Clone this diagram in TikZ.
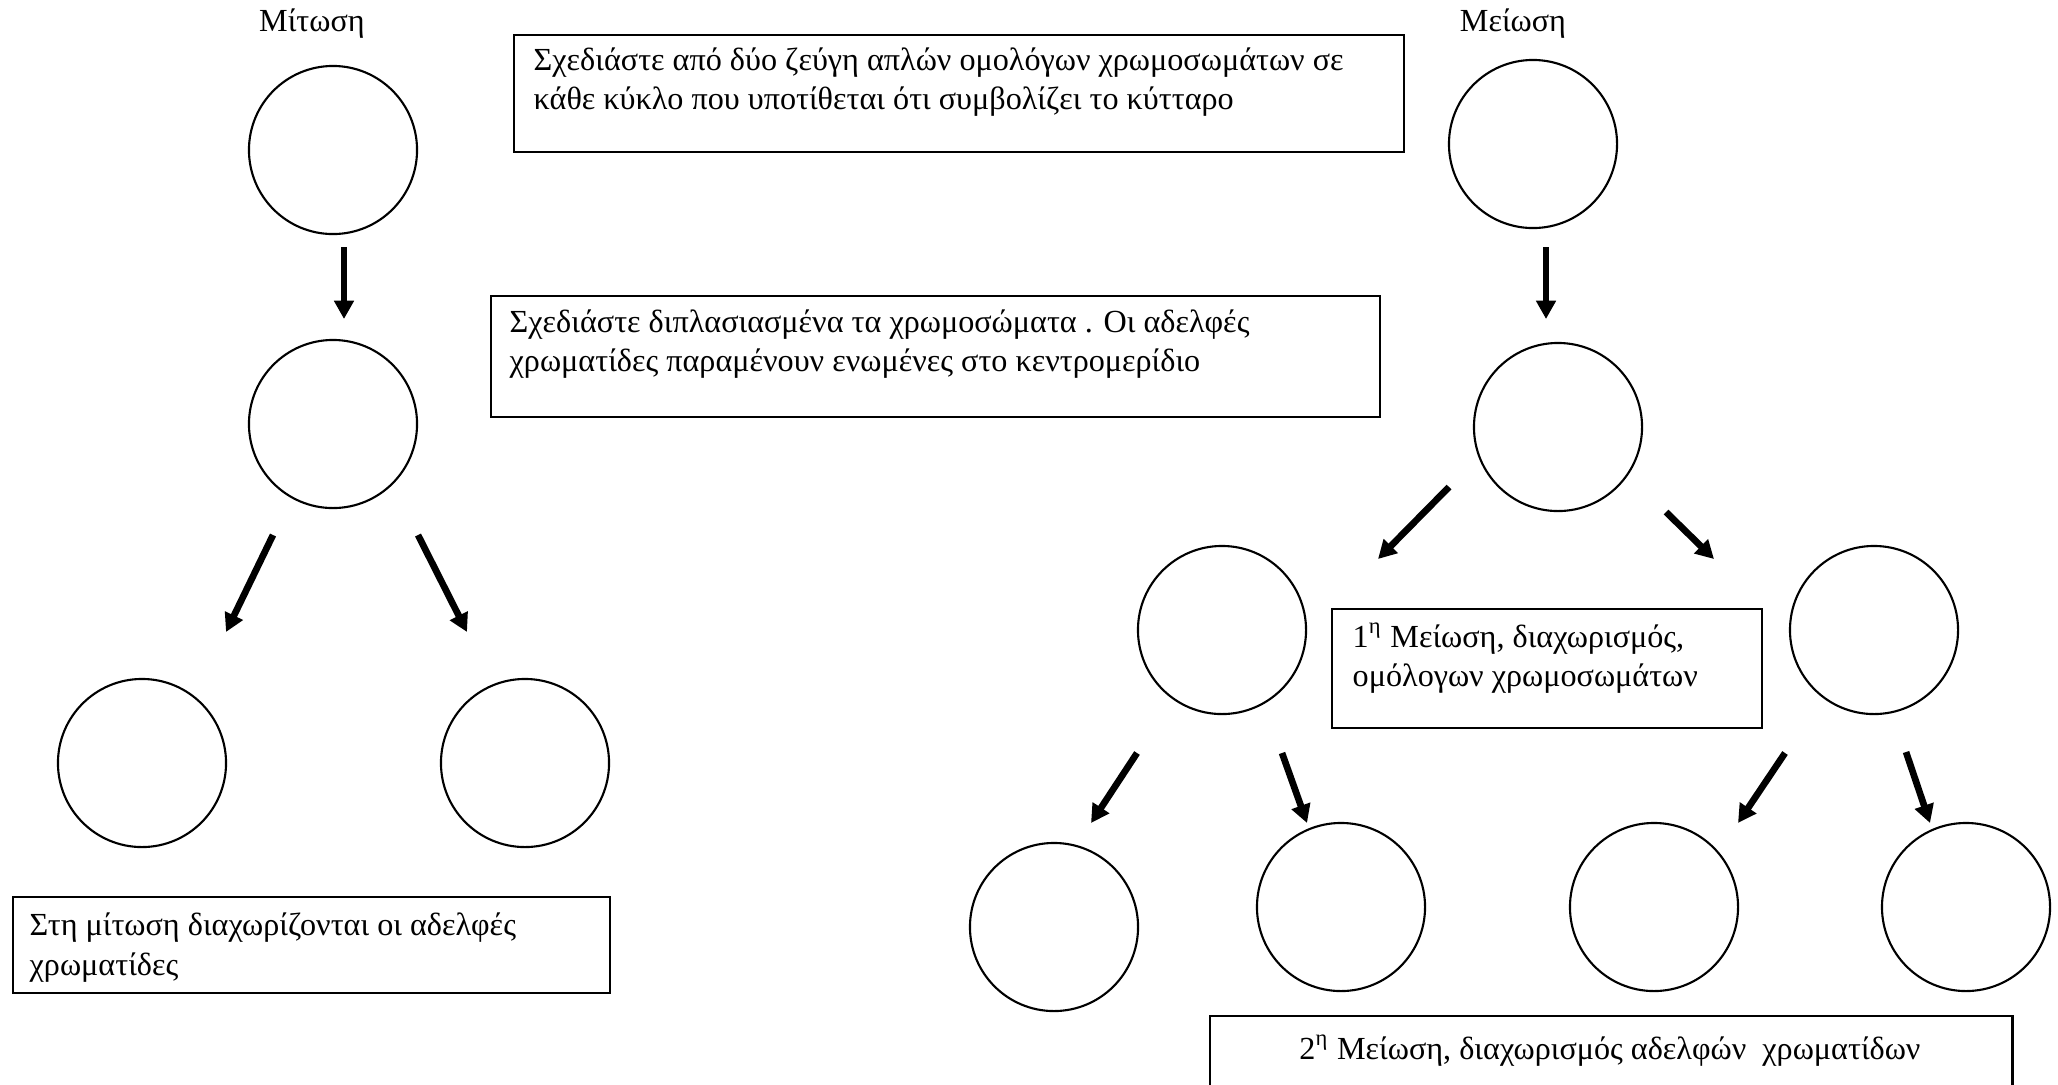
\documentclass[tikz,border=0pt]{standalone}
\usepackage{fontspec}
\setmainfont{Liberation Serif}
\usetikzlibrary{arrows.meta}
\begin{document}
\begin{tikzpicture}[x=0.01cm,y=-0.01cm,
  cell/.style={circle,draw,line width=0.6pt,minimum size=1.68cm,inner sep=0pt},
  box/.style={draw,line width=0.6pt,inner sep=0pt,anchor=north west},
  txt/.style={anchor=base west,inner sep=0pt,font=\fontsize{9.15}{11.1}\selectfont},
  ttl/.style={anchor=base,inner sep=0pt,font=\fontsize{9.15}{11.1}\selectfont},
  arr/.style={line width=1.9pt,-{Triangle[length=5.2pt,width=5.4pt]}}]
\clip (0,0) rectangle (2058,1084);
\fill[white] (0,0) rectangle (2058,1084);

% titles
\node[ttl] (tmit) at (312,31) {Μίτωση};
\node[ttl] (tmei) at (1513,31) {Μείωση};

% mitosis cells
\node[cell] (m1) at (333,150) {};
\node[cell] (m2) at (333,424) {};
\node[cell] (m3) at (142,763) {};
\node[cell] (m4) at (525,763) {};

% meiosis cells
\node[cell] (e1) at (1533,144) {};
\node[cell] (e2) at (1558,427) {};
\node[cell] (e3) at (1222,630) {};
\node[cell] (e4) at (1874,630) {};
\node[cell] (e5) at (1054,927) {};
\node[cell] (e6) at (1341,907) {};
\node[cell] (e7) at (1654,907) {};
\node[cell] (e8) at (1966,907) {};

% boxes
\node[box,minimum width=8.89cm,minimum height=1.17cm] (b1) at (513,34) {};
\node[txt] (b1a) at (533,70) {Σχεδιάστε από δύο ζεύγη απλών ομολόγων χρωμοσωμάτων σε};
\node[txt] (b1b) at (533,109) {κάθε κύκλο που υποτίθεται ότι συμβολίζει το κύτταρο};

\node[box,minimum width=8.88cm,minimum height=1.21cm] (b2) at (490,295) {};
\node[txt] (b2a) at (509,332) {Σχεδιάστε διπλασιασμένα τα χρωμοσώματα . Οι αδελφές};
\node[txt] (b2b) at (509,371) {χρωματίδες παραμένουν ενωμένες στο κεντρομερίδιο};

\node[box,minimum width=4.30cm,minimum height=1.19cm] (b3) at (1331,608) {};
\node[txt] (b3a) at (1352,647) {1\textsuperscript{η} Μείωση, διαχωρισμός,};
\node[txt] (b3b) at (1352,686) {ομόλογων χρωμοσωμάτων};

\node[box,minimum width=5.97cm,minimum height=0.96cm] (b4) at (12,896) {};
\node[txt] (b4a) at (29,935) {Στη μίτωση διαχωρίζονται οι αδελφές};
\node[txt] (b4b) at (29,975) {χρωματίδες};

\node[box,minimum width=8.02cm,minimum height=1.00cm] (b5) at (1209,1015) {};
\node[ttl] (b5a) at (1610,1059) {2\textsuperscript{η} Μείωση, διαχωρισμός αδελφών\ \ χρωματίδων};

% arrow end points
\coordinate (a1s) at (344,247);  \coordinate (a1e) at (344,319);
\coordinate (a2s) at (273,535);  \coordinate (a2e) at (226,632);
\coordinate (a3s) at (418,535);  \coordinate (a3e) at (467,632);
\coordinate (a4s) at (1546,247); \coordinate (a4e) at (1546,319);
\coordinate (a5s) at (1449,487); \coordinate (a5e) at (1378,559);
\coordinate (a6s) at (1666,512); \coordinate (a6e) at (1714,559);
\coordinate (a7s) at (1137,753); \coordinate (a7e) at (1091,823);
\coordinate (a8s) at (1282,753); \coordinate (a8e) at (1307,823);
\coordinate (a9s) at (1785,753); \coordinate (a9e) at (1738,823);
\coordinate (a10s) at (1906,752); \coordinate (a10e) at (1930,823);

\foreach \i in {1,...,10} \draw[arr] (a\i s) -- (a\i e);
\end{tikzpicture}
\end{document}
